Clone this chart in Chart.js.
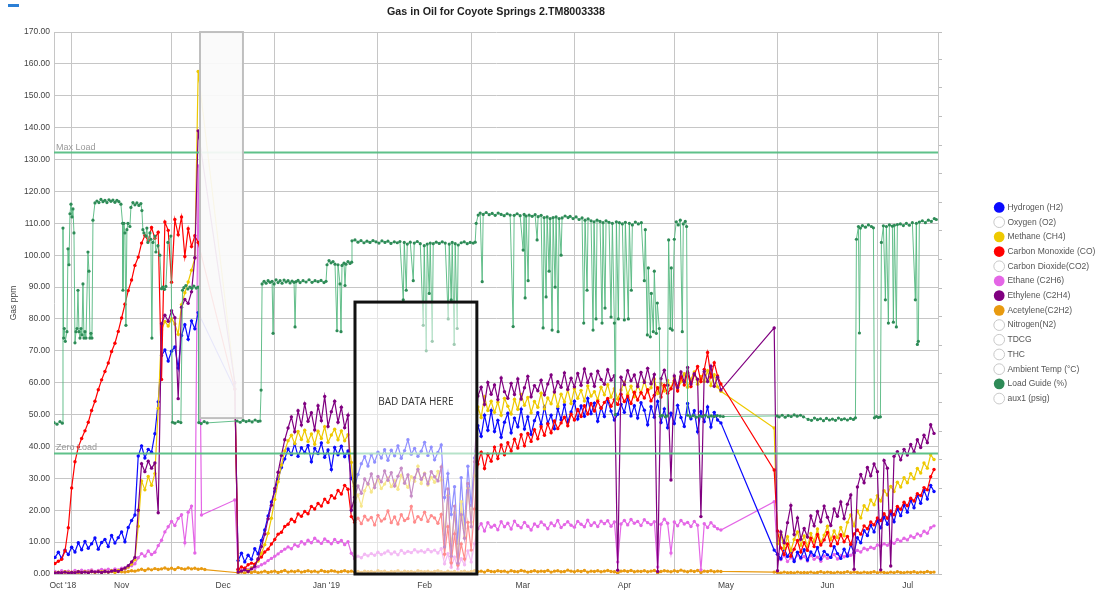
<!DOCTYPE html>
<html>
<head>
<meta charset="utf-8">
<title>Gas in Oil for Coyote Springs 2.TM8003338</title>
<script src="https://cdn.jsdelivr.net/npm/chart.js@4.4.1/dist/chart.umd.min.js"></script>
<style>
  html, body { margin: 0; padding: 0; background: #ffffff; }
  #wrap { position: relative; width: 1095px; height: 591px; }
  #tab { position: absolute; left: 8px; top: 4px; width: 11px; height: 2.5px; background: #2b7fd6; }
</style>
</head>
<body>
<div id="wrap">
  <canvas id="gasChart" width="1095" height="591"></canvas>
  <div id="tab"></div>
</div>
<script>
const FONT = "'Liberation Sans', Arial, sans-serif";
const GRID_COLOR = "#c6c6c6";
const TITLE = "Gas in Oil for Coyote Springs 2.TM8003338";

// x axis is in days counted from 1 Oct 2018 (day 0)
const X_MIN = 25.7;
const X_MAX = 291.2;
const monthStartDays = [31, 61, 92, 123, 151, 182, 212, 243, 273];
const monthLabelDays = [28.35, 46, 76.5, 107.5, 137, 166.5, 197, 227.5, 258, 282.1];
const monthLabels = ["Oct '18", "Nov", "Dec", "Jan '19", "Feb", "Mar", "Apr", "May", "Jun", "Jul"];

// gas readings, one value per day starting at FIRST_DAY (null = no reading)
const FIRST_DAY = 26;

const hydrogen = [
  5.2, 6.8, 4.9, 7.5, 6.1,
  8.4, 6.9, 9.8, 7.6, 10.2, 8.1, 9.5, 11.3, 7.8, 9.9,
  10.8, 8.6, 12.1, 9.7, 11.4, 13.2, 10.1, 14.6, 16.8, 18.5,
  37.0, 40.2, 36.4, 39.1, 38.2, 44.0, 54.0,
  68.5, 70.3, 66.8, 69.9, 71.2, 64.6, 74.8, 78.2, 73.6, 79.4, 76.9, 82.0,
  null, null, null, null, null, null, null, null, null, null, 58.0,
  4.2, 6.5, 3.8, 5.9, 4.6, 7.9, 6.3, 10.5, 13.8, 18.2,
  22.6, 25.9, 29.8, 33.4, 36.1, 39.2, 37.5, 40.8, 36.9, 39.6,
  38.1, 40.3, 35.2, 39.4, 37.8, 41.1, 36.6, 38.9, 32.8, 39.7,
  37.4, 40.1, 36.8, 38.6, 30.0,
  27.5, 31.2, 34.6, 36.8, 33.9, 37.5, 35.1, 38.2, 36.4, 39.0,
  35.7, 38.8, 37.1, 40.2, 36.3, 38.7, 42.1, 37.6, 39.4, 36.9,
  38.5, 41.3, 37.2, 39.8, 35.8, 38.1, 40.5, 24.0, 31.5, 18.7,
  27.4, 9.6, 30.2, 14.3, 33.8, 21.5, 36.4,
  46.5, 43.2, 49.8, 45.1, 51.3, 44.7, 48.2, 42.9,
  47.6, 50.4, 44.3, 48.9, 46.2, 51.7, 45.5, 49.3, 43.8, 48.1,
  50.6, 46.9, 52.4, 47.3, 49.8, 45.6, 51.9, 48.4, 53.1, 47.7,
  50.8, 54.2, 48.6, 52.7, 49.5, 55.1, 50.3, 53.6, 47.9, 52.2,
  49.4, 54.5, 51.1, 48.3, 50.1, 53.2, 50.7, 55.4, 49.6, 52.8,
  48.9, 53.7, 51.4, 46.8, 52.5, 49.2, 54.1, 47.5, 51.8, 45.9,
  50.4, 47.2, 52.9, 49.1, 46.3, 53.5, 48.7, 51.2, 44.6, 50.9,
  47.8, 52.4, 46.1, 50.7, 48.3, 47.4,
  null, null, null, null, null, null, null, null, null, null, null, null, null, null, null,
  7.5,
  6.2, 4.8, 8.1, 5.5, 7.3, 3.9, 6.8, 5.1,
  7.6, 4.4, 6.9, 5.8, 8.3, 4.7, 7.1, 6.0, 5.2, 8.6,
  6.4, 4.9, 7.8, 5.6, 9.2, 6.7, 11.4, 9.8, 13.6, 12.1,
  15.3, 13.2, 16.8, 14.5, 17.9, 15.6, 19.2, 16.4, 20.5, 18.3,
  21.6, 19.4, 23.1, 20.8, 24.7, 22.2, 26.3, 23.5, 27.8, 25.9
];

const methane = [
  0.4, 0.6, 0.3, 0.7, 0.5,
  0.6, 0.4, 0.8, 0.5, 0.7, 0.6, 0.9, 0.5, 0.8, 0.7,
  0.9, 0.6, 1.0, 0.8, 1.1, 1.3, 1.6, 2.2, 3.1, 4.5,
  15.0, 29.2, 26.4, 30.6, 27.8, 31.5, 52.0,
  76.5, 79.2, 77.8, 80.1, 78.4, 75.2, 84.5, 88.2, 91.6, 95.3, 99.1, 157.6,
  null, null, null, null, null, null, null, null, null, null, 60.0,
  1.2, 0.8, 1.5, 1.1, 1.9, 2.8, 4.1, 6.5, 9.2, 12.8,
  17.5, 23.4, 28.9, 34.2, 38.6, 41.8, 43.5, 40.9, 44.7, 42.2,
  45.1, 41.6, 43.9, 40.7, 44.8, 42.5, 46.2, 41.3, 43.6, 45.4,
  42.1, 44.9, 41.8, 43.7, 35.0,
  22.5, 24.8, 21.3, 26.1, 28.4, 25.7, 27.9, 29.6, 26.8, 28.2,
  30.1, 27.4, 29.3, 26.6, 31.0, 28.7, 27.2, 30.5, 29.1, 33.8,
  28.4, 31.6, 27.9, 30.3, 28.8, 32.2, 29.5, 12.4, 24.6, 8.8,
  19.2, 5.4, 22.7, 11.6, 26.9, 16.3, 30.8,
  52.4, 49.1, 55.6, 51.3, 54.2, 50.7, 53.9, 49.8,
  55.1, 52.6, 50.2, 54.8, 51.7, 56.3, 52.9, 55.4, 50.6, 54.1,
  52.3, 56.7, 51.8, 55.2, 53.4, 57.1, 52.6, 56.4, 54.0, 57.8,
  53.5, 58.2, 55.1, 57.6, 54.3, 59.0, 55.8, 57.2, 54.7, 58.6,
  56.2, 59.4, 55.5, 58.1, 54.9, 57.7, 60.2, 56.4, 58.9, 55.6,
  59.3, 56.8, 60.5, 57.1, 58.4, 61.2, 56.6, 59.8, 57.4, 60.7,
  58.2, 61.5, 57.9, 60.3, 62.8, 58.6, 61.1, 63.4, 59.5, 62.0,
  60.4, 63.8, 59.1, 62.5, 58.7, 57.3,
  null, null, null, null, null, null, null, null, null, null, null, null, null, null, null,
  45.8,
  9.5, 12.4, 8.1, 11.7, 7.3, 10.8, 13.2, 9.0,
  11.9, 8.6, 12.7, 10.3, 14.1, 9.7, 12.2, 15.0, 10.8, 13.5,
  11.4, 14.6, 12.0, 16.2, 18.5, 15.1, 19.8, 17.6, 21.4, 20.1,
  23.2, 21.7, 24.6, 22.9, 26.1, 24.8, 27.5, 25.9, 28.8, 27.3,
  30.2, 28.6, 31.5, 29.9, 33.1, 31.7, 34.8, 33.2, 37.4, 35.9
];

const carbonMonoxide = [
  3.3, 4.0, 4.6, 7.2, 14.5,
  27.0, 35.2, 39.8, 42.5, 44.9, 47.6, 51.3, 54.2, 57.8, 60.9,
  63.5, 66.2, 69.8, 72.4, 76.1, 80.3, 84.6, 88.9, 92.2, 96.8,
  99.4, 103.8, 106.2, 104.5, 108.7, 105.3, 107.2,
  61.0, 110.4, 107.8, 91.5, 111.2, 106.4, 112.0, 99.6, 108.3, 102.7, 106.1, 104.0,
  null, null, null, null, null, null, null, null, null, null, 58.0,
  1.5, 2.2, 1.8, 2.9, 3.4, 3.1, 4.6, 5.3, 6.9, 7.8,
  9.4, 10.8, 12.5, 13.1, 14.9, 15.6, 17.2, 16.4, 18.8, 18.1,
  19.6, 18.9, 21.2, 20.4, 22.1, 21.3, 23.5, 22.4, 24.6, 23.8,
  26.2, 25.1, 27.8, 26.6, 18.0,
  16.2, 17.5, 15.8, 18.1, 16.9, 17.7, 15.4, 18.4, 16.6, 17.3,
  19.8, 16.1, 17.9, 15.7, 18.6, 16.8, 17.4, 21.2, 16.3, 18.0,
  17.1, 19.4, 16.5, 18.3, 17.6, 15.9, 18.7, 6.2, 14.8, 3.5,
  12.6, 2.8, 9.4, 4.7, 16.2, 7.5, 20.4,
  34.5, 38.2, 33.1, 37.6, 35.4, 39.8, 36.2, 40.5,
  37.4, 41.2, 38.6, 42.3, 39.5, 43.7, 40.2, 44.1, 41.6, 45.3,
  42.4, 46.2, 43.5, 47.1, 44.3, 48.0, 45.6, 47.4, 49.2, 46.5,
  50.1, 48.3, 51.6, 49.4, 52.8, 50.2, 53.5, 51.1, 54.2, 52.0,
  53.8, 55.1, 52.6, 54.7, 53.2, 56.4, 54.1, 55.8, 53.5, 57.0,
  54.6, 56.9, 55.2, 57.8, 54.3, 56.1, 58.4, 55.5, 59.2, 56.7,
  58.1, 60.6, 57.4, 61.9, 59.3, 63.2, 58.8, 62.5, 65.1, 60.4,
  64.2, 69.5, 61.8, 66.3, 62.1, 59.6,
  null, null, null, null, null, null, null, null, null, null, null, null, null, null, null,
  32.6,
  13.5, 8.2, 6.1, 9.4, 5.6, 7.8, 10.5, 6.9,
  9.8, 7.4, 11.2, 8.6, 12.4, 9.1, 10.7, 13.0, 8.9, 11.6,
  9.5, 12.3, 10.1, 11.8, 9.3, 12.6, 13.8, 12.5, 15.1, 14.2,
  16.3, 15.4, 17.6, 16.8, 18.9, 17.5, 19.8, 18.6, 21.2, 20.3,
  22.5, 21.4, 23.8, 22.9, 25.2, 24.6, 27.1, 26.4, 30.5, 32.8
];

const ethane = [
  0.8, 0.5, 1.0, 0.7, 0.9,
  0.6, 1.1, 0.8, 1.2, 0.9, 1.0, 1.3, 0.8, 1.1, 1.4,
  1.2, 1.5, 1.1, 1.6, 1.3, 1.8, 1.5, 2.1, 2.6, 3.2,
  5.1, 6.4, 5.6, 7.2, 6.1, 6.8, 8.9,
  10.6, 13.2, 14.8, 16.5, 15.2, 17.4, 18.6, 9.8, 19.4, 21.3, 6.6, 128.0,
  18.5, null, null, null, null, null, null, null, null, null, 23.2,
  1.5, 1.2, 1.8, 1.4, 2.0, 1.7, 2.3, 2.9, 3.4, 4.2,
  4.9, 5.6, 6.3, 7.1, 7.8, 8.5, 7.9, 9.2, 8.7, 10.1,
  9.4, 10.6, 9.8, 11.2, 10.3, 9.6, 11.0, 10.2, 9.5, 10.8,
  9.9, 10.5, 9.2, 10.1, 6.5,
  4.8, 5.6, 5.1, 6.2, 5.7, 6.4, 5.9, 6.8, 6.1, 6.6,
  7.2, 6.3, 6.9, 6.0, 7.4, 6.5, 7.1, 6.7, 7.6, 6.9,
  7.3, 6.8, 7.7, 7.0, 7.5, 6.6, 7.9, 3.2, 6.4, 2.1,
  5.3, 1.6, 4.8, 2.9, 7.2, 3.8, 9.5,
  14.2, 15.8, 13.5, 16.1, 14.7, 15.3, 13.9, 16.4,
  14.8, 15.9, 14.1, 16.6, 15.2, 14.5, 16.2, 15.0, 13.8, 15.7,
  14.9, 16.3, 15.4, 14.2, 16.0, 15.1, 16.8, 14.6, 15.5, 16.4,
  15.3, 14.7, 16.5, 15.6, 14.8, 16.9, 15.2, 16.1, 14.9, 16.6,
  15.8, 16.7, 15.0, 16.3, 3.8, 15.7, 16.8, 15.4, 17.1, 15.9,
  16.5, 15.2, 17.0, 16.1, 15.5, 16.4, 2.2, 15.6, 17.2, 15.9,
  6.6, 16.3, 15.1, 16.8, 15.7, 16.2, 14.9, 16.5, 15.3, 1.3,
  15.8, 14.6, 16.1, 15.0, 14.2, 13.8,
  null, null, null, null, null, null, null, null, null, null, null, null, null, null, null,
  22.7,
  6.2, 4.5, 5.8, 3.9, 5.1, 4.3, 6.0, 4.8,
  5.5, 4.1, 5.9, 4.6, 5.3, 4.0, 5.7, 4.9, 5.2, 6.1,
  4.7, 5.8, 5.4, 6.3, 5.9, 6.8, 7.4, 6.9, 8.1, 7.6,
  8.4, 8.0, 9.1, 8.7, 9.5, 9.0, 10.2, 9.6, 10.8, 10.3,
  11.2, 10.7, 11.9, 11.4, 12.6, 12.0, 13.4, 12.8, 14.5, 15.1
];

const ethylene = [
  0.3, 0.5, 0.4, 0.6, 0.3,
  0.5, 0.4, 0.7, 0.5, 0.6, 0.4, 0.8, 0.6, 0.7, 0.5,
  0.8, 0.6, 0.9, 1.1, 0.8, 1.4, 1.9, 2.6, 3.8, 5.2,
  20.0, 34.6, 32.1, 35.4, 33.2, 34.8, 19.2,
  78.5, 81.2, 79.3, 82.6, 80.4, 55.0, 83.7, 86.1, 84.9, 88.5, 99.2, 139.0,
  null, null, null, null, null, null, null, null, null, null, 60.0,
  0.6, 0.9, 1.3, 0.8, 1.6, 2.4, 4.8, 8.6, 12.5, 17.3,
  21.6, 26.8, 31.9, 37.2, 42.1, 45.8, 49.3, 44.6, 51.2, 46.7,
  53.4, 47.9, 50.6, 45.2, 52.8, 48.1, 55.7, 46.3, 50.9, 54.2,
  47.6, 52.3, 45.9, 49.8, 20.0,
  24.1, 27.6, 25.3, 29.8, 28.2, 31.4, 27.1, 30.6, 28.9, 32.3,
  29.4, 31.8, 27.6, 30.7, 33.2, 28.5, 31.1, 24.5, 30.2, 32.8,
  29.7, 31.4, 28.3, 32.1, 30.5, 29.2, 33.6, 8.5, 26.7, 5.6,
  21.3, 3.4, 18.6, 11.2, 28.4, 14.8, 35.2,
  55.8, 58.6, 53.2, 60.1, 56.4, 59.3, 54.7, 61.5,
  57.2, 55.1, 59.8, 56.3, 61.2, 54.9, 58.4, 62.0, 55.6, 59.1,
  57.5, 60.8, 56.2, 59.6, 62.4, 57.1, 60.3, 58.6, 63.1, 57.9,
  61.4, 58.7, 62.9, 59.2, 64.3, 60.1, 62.7, 58.9, 63.6, 61.0,
  59.5, 64.1, 60.8, 62.2, 1.2, 61.7, 59.4, 63.8, 60.6, 62.4,
  58.8, 63.2, 60.1, 64.5, 59.7, 62.6, 0.8, 61.3, 63.9, 59.2,
  29.5, 62.1, 58.5, 63.4, 60.2, 64.8, 59.6, 62.8, 61.1, 18.0,
  63.5, 60.4, 65.2, 58.9, 61.7, 57.7,
  null, null, null, null, null, null, null, null, null, null, null, null, null, null, null,
  77.2,
  1.0, 13.2, 9.8, 16.1, 21.5, 12.4, 17.6, 10.9,
  14.3, 11.6, 18.2, 15.1, 19.6, 16.4, 21.3, 17.8, 15.2, 20.4,
  18.1, 22.6, 17.4, 21.9, 24.8, 1.5, 27.3, 31.2, 28.6, 33.4,
  30.8, 34.5, 32.1, 1.3, 35.6, 33.2, 2.5, 36.9, 38.4, 35.8,
  39.1, 37.3, 40.6, 38.2, 42.1, 39.7, 43.5, 41.2, 46.8, 44.1
];

const acetylene = [
  0.6, 0.4, 0.7, 0.5, 0.8,
  0.5, 0.7, 0.4, 0.6, 0.8, 0.5, 0.7, 0.6, 0.9, 0.5,
  0.7, 0.6, 0.8, 0.5, 0.9, 0.7, 0.6, 0.8, 1.0, 0.9,
  1.2, 1.5, 1.1, 1.6, 1.3, 1.7, 1.4,
  1.6, 1.9, 1.5, 1.8, 1.4, 2.0, 1.7, 1.5, 1.9, 1.6, 1.8, 1.5,
  1.7, 1.4, null, null, null, null, null, null, null, null, null,
  0.4, 0.6, 0.3, 0.7, 0.5, 0.8, 0.4, 0.6, 0.9, 0.5,
  0.7, 0.9, 0.5, 0.8, 1.1, 0.6, 0.9, 0.7, 1.0, 0.6,
  0.8, 1.0, 0.7, 0.9, 0.6, 1.1, 0.8, 0.7, 1.0, 0.9,
  0.6, 0.8, 1.0, 0.7, 0.9,
  0.6, 0.8, 0.5, 0.9, 0.7, 0.8, 0.6, 1.0, 0.7, 0.9,
  0.5, 0.8, 0.7, 1.0, 0.6, 0.9, 0.7, 0.8, 0.6, 1.0,
  0.8, 0.7, 0.9, 0.6, 0.8, 1.0, 0.7, 0.5, 0.9, 0.6,
  0.8, 0.4, 0.7, 0.9, 0.6, 0.8, 1.0,
  0.7, 0.9, 0.6, 1.1, 0.8, 0.7, 1.0, 0.8,
  0.9, 0.6, 1.0, 0.8, 0.7, 1.1, 0.9, 0.6, 0.8, 1.0,
  0.7, 0.9, 0.8, 1.1, 0.6, 0.9, 1.0, 0.7, 0.8, 1.2,
  0.9, 0.7, 1.0, 0.8, 1.1, 0.6, 0.9, 0.8, 1.0, 0.7,
  0.9, 1.1, 0.8, 0.7, 0.3, 0.9, 1.0, 0.8, 1.1, 0.7,
  0.9, 0.8, 1.0, 0.7, 0.9, 1.1, 0.4, 0.8, 1.0, 0.9,
  0.7, 1.0, 0.8, 1.2, 0.9, 0.7, 1.0, 0.8, 1.1, 0.5,
  0.9, 0.8, 1.0, 0.7, 0.9, 0.8,
  null, null, null, null, null, null, null, null, null, null, null, null, null, null, null,
  0.6,
  0.5, 0.3, 0.6, 0.4, 0.5, 0.3, 0.6, 0.4,
  0.5, 0.4, 0.6, 0.3, 0.5, 0.7, 0.4, 0.6, 0.5, 0.3,
  0.6, 0.4, 0.5, 0.7, 0.4, 0.6, 0.5, 0.3, 0.6, 0.4,
  0.5, 0.7, 0.4, 0.6, 0.5, 0.3, 0.6, 0.4, 0.7, 0.5,
  0.4, 0.6, 0.5, 0.7, 0.4, 0.6, 0.5, 0.8, 0.5, 0.6
];

// load guide is sampled irregularly: [day, value]
const loadGuide = [
  [25.7,47.5],[26.6,47.0],[27.5,47.8],[28.2,47.3],[28.4,108.5],[28.6,74],[28.8,77],[29.1,73],[29.6,76],[29.9,102],
  [30.2,97],[30.5,113],[30.8,116],[31.1,112],[31.4,114.5],[31.7,107],[32.0,72.5],[32.3,76],[32.6,77],[32.9,89],
  [33.2,76],[33.5,74],[33.8,77],[34.1,75],[34.4,91],[34.7,74],[35.0,76],[35.3,74],[35.9,101],[36.2,95],
  [36.5,74],[36.8,75.5],[37.1,74],[37.4,111],[38.0,116.4],[38.6,117],[39.2,116.5],[39.8,117.5],[40.4,116.8],[41.0,117.2],
  [41.6,116.5],[42.2,117.4],[42.8,116.9],[43.4,117.3],[44.0,116.6],[44.6,117.2],[45.2,116.8],[45.8,116],[46.3,110],[46.4,89],
  [46.7,110],[47.0,107],[47.3,78],[47.6,108],[47.9,110],[48.5,109],[48.8,115],[49.4,116.5],[50.0,115.8],[50.6,116.4],
  [51.2,115.6],[51.8,116.2],[52.1,114],[52.4,108],[52.7,107],[53.3,106],[53.6,108.5],[53.9,104],[54.5,107],[54.8,105],
  [55.1,74],[55.4,104],[56.0,106],[56.3,101],[56.9,103],[57.5,100],[58.0,89.5],[58.4,90],[58.9,89.3],[59.3,90.2],
  [59.9,104],[60.8,106],[61.3,47.6],[62.0,47.3],[63.0,47.8],[63.8,47.5],[64.3,89],[64.7,89.8],[65.3,90.5],[65.9,89.4],
  [66.5,90],[67.1,89.6],[67.7,90.3],[68.4,89.7],[69.0,90],[69.2,47.5],[69.9,47.2],[70.8,47.8],[71.7,47.4],
  [80.7,48],[81.6,47.6],[82.5,48.2],[83.4,47.8],[84.3,48.1],[85.2,47.7],[86.1,48.3],[87.0,47.9],[87.6,48],[87.9,57.7],
  [88.2,91],[88.8,91.8],[89.4,91.2],[90.0,92],[90.6,91.5],[91.2,91.8],[91.5,75.5],[91.8,91],[92.4,92.3],[93.0,91.4],
  [93.6,92],[94.2,91.2],[94.8,92.2],[95.4,91.6],[96.0,92],[96.6,91.3],[97.2,91.9],[97.8,91.5],[98.1,77.5],[98.4,91.7],
  [99.0,92.1],[99.6,91.4],[100.5,92],[101.4,91.6],[102.3,92.3],[103.2,91.5],[104.1,92],[105.0,91.7],[105.9,92.1],[106.8,91.4],
  [107.4,91.8],[107.7,97],[108.3,98.3],[108.9,97.6],[109.5,98],[110.1,97.2],[110.7,76.3],[111.0,97],[111.6,91],[111.9,76],
  [112.2,96.8],[112.8,97.5],[113.1,90.5],[113.4,97.2],[114.0,98],[114.6,97.4],[115.1,97.8],[115.2,104.5],[116.1,104.8],[117.0,104.1],
  [117.9,104.6],[118.8,103.9],[119.7,104.4],[120.6,104],[121.5,104.6],[122.4,104.2],[123.3,103.8],[124.2,104.5],[125.1,104],[126.0,104.4],
  [126.9,103.7],[127.9,104.2],[128.8,103.9],[129.6,104.3],[130.6,86],[130.9,104],[131.5,89],[131.8,103.5],[132.7,104.1],[133.6,92],
  [133.9,103.8],[134.8,104.3],[135.7,103.6],[136.6,78],[136.9,103],[137.5,70],[137.8,103.5],[138.4,88],[138.7,103.8],[139.3,73],
  [139.6,103.6],[140.5,104.1],[141.4,103.7],[142.3,104.2],[143.2,103.8],[144.1,80],[144.4,103.5],[145.0,86],[145.3,104],[145.9,72],
  [146.2,103.6],[146.8,77],[147.1,103.2],[148.0,103.9],[148.9,104.2],[149.8,103.6],[150.7,104],[151.6,103.8],[152.2,104.1],[152.5,110],
  [153.1,112.6],[153.7,113.2],[154.3,91.7],[154.6,112.8],[155.5,113.4],[156.4,112.7],[157.3,113.1],[158.2,112.5],[159.1,113.2],[160.0,112.8],
  [160.9,112.4],[161.8,113],[162.7,112.6],[163.6,77.6],[163.9,112.5],[164.8,113],[165.7,112.4],[166.6,101.6],[166.9,112.8],[167.2,86.6],
  [167.5,112.3],[168.1,92],[168.4,112.6],[169.3,112.2],[170.2,112.7],[170.8,104.8],[171.1,112.1],[172.0,112.5],[172.6,77.2],[172.9,111.8],
  [173.5,86.9],[173.8,112],[174.4,95],[174.7,111.5],[175.3,76.5],[175.6,111.8],[176.2,90],[176.5,112],[177.1,76],[177.4,111.5],
  [178.0,100],[178.3,111.7],[179.2,112.3],[180.1,111.8],[180.7,112.2],[181.6,111.5],[182.5,112],[183.4,111.2],[184.3,111.7],[184.8,78.7],
  [185.2,111],[185.8,89],[186.1,111.4],[187.0,110.8],[187.6,76.5],[187.9,110.5],[188.5,80],[188.8,111],[189.7,110.6],[190.3,78.7],
  [190.6,110.2],[191.2,83.4],[191.5,110.8],[192.4,110.3],[193.0,80.6],[193.4,110],[194.0,78.7],[194.3,50],[194.6,110.5],[195.2,80],
  [195.5,110.2],[196.4,109.8],[197.0,79.7],[197.3,110.3],[198.2,80],[198.5,110],[199.1,89],[199.4,109.5],[200.3,110.4],[201.2,109.8],
  [202.1,110.2],[203.0,92],[203.3,108],[203.9,75],[204.2,96],[204.8,74.4],[205.1,88],[205.7,76],[206.0,95],[206.6,75.5],
  [206.9,85],[207.5,77],[207.8,49.5],[208.4,49.8],[209.3,49.3],[209.9,49.6],[210.3,104.8],[210.8,77],[211.1,96],[211.4,76.5],
  [212.0,105],[212.6,110.5],[213.2,109.5],[213.8,111],[214.4,76],[214.7,109.8],[215.3,110.6],[215.7,109],[216.0,49.8],[216.8,49.3],
  [217.7,49.7],[218.6,49.2],[219.5,49.6],[220.4,49.4],[221.3,49.8],[222.2,49.3],[223.1,49.6],[224.0,49.4],[224.9,49.7],[225.8,49.5],
  [226.7,49.4],
  [242.9,49.6],[243.5,49.3],[244.4,49.8],[245.3,49.2],[246.2,49.7],[247.1,49.4],[248.0,49.9],[248.9,49.5],[249.9,49.8],[250.8,49.3],
  [252.2,48.5],[253.2,48.2],[254.1,48.9],[255.0,48.4],[255.9,48.7],[256.8,48.1],[257.7,48.8],[258.6,48.3],[259.5,48.6],[260.4,48.2],
  [261.3,48.9],[262.2,48.4],[263.1,48.7],[264.0,48.3],[264.9,48.8],[265.8,48.5],[266.4,49],[266.7,105],[267.3,109],[267.6,75.6],
  [267.9,108.5],[268.5,109.3],[269.4,108.8],[270.3,109.5],[271.2,109],[271.8,108.6],[272.1,49],[272.7,49.4],[273.3,49.1],[273.9,49.3],
  [274.2,104],[274.8,109.2],[275.4,86],[275.7,109],[276.3,78.7],[276.6,109.5],[277.5,109.1],[277.8,79],[278.1,109.4],[278.7,77.5],
  [279.0,109.6],[279.9,109.8],[280.8,109.3],[281.7,110],[282.6,109.4],[283.5,110.2],[284.4,86],[284.7,110],[285.0,72],[285.3,73],
  [285.6,110.4],[286.5,110.8],[287.4,110.2],[288.3,111],[289.2,110.6],[290.1,111.5],[290.7,111.2]
];

// reference load levels (ppm scale) and their captions
const loadLineLabels = ["Max Load", "Zero Load"];
const loadLinePpm = [132.2, 37.8];

// highlighted regions, in axis units
const maskedBoxDays = [69.55, 82.45];
const maskedBoxPpm = [48.9, 170];
const badDataBoxDays = [116.1, 152.7];
const badDataBoxPpm = [0, 85.3];
const badDataText = "BAD DATA HERE";
const badDataTextPpm = 54;

const LOAD_LINE_COLOR = "rgba(86, 190, 132, 0.95)";

//builds a line dataset for one gas from its daily readings
function gasDataset(label, values, color, order) {
    return {
        label: label,
        order: order,
        xAxisID: "x",
        yAxisID: "y",
        data: values.map((v, i) => ({ x: FIRST_DAY + i, y: v })),
        borderColor: color,
        backgroundColor: color,
        borderWidth: 1.2,
        pointRadius: 1.7,
        pointBorderWidth: 0,
        pointBackgroundColor: color,
        spanGaps: true
    };
}

//legend-only entry for a channel that has no data in this view
function emptyDataset(label) {
    return {
        label: label,
        order: 9,
        xAxisID: "x",
        yAxisID: "y",
        data: [],
        borderColor: "#c8c8c8",
        backgroundColor: "#ffffff",
        pointBackgroundColor: "#ffffff",
        pointBorderColor: "#c8c8c8",
        pointBorderWidth: 1
    };
}

const loadGuideDataset = {
    label: "Load Guide (%)",
    order: 0,
    xAxisID: "x",
    yAxisID: "y",
    data: loadGuide.map(p => ({ x: p[0], y: p[1] })),
    borderColor: "rgba(84, 184, 128, 0.9)",
    backgroundColor: "#33a065",
    borderWidth: 1,
    pointRadius: 1.6,
    pointBorderWidth: 0,
    pointBackgroundColor: "#2e8b57"
};

// max/zero load lines and the two marked boxes, drawn over the data
const overlayPlugin = {
    id: "overlayPlugin",
    afterDatasetsDraw(chart) {
        const { ctx, chartArea: { left, right }, scales: { x, y } } = chart;
        ctx.save();

        loadLinePpm.forEach((ppm, i) => {
            const py = y.getPixelForValue(ppm);
            ctx.strokeStyle = LOAD_LINE_COLOR;
            ctx.lineWidth = 2;
            ctx.beginPath();
            ctx.moveTo(left, py);
            ctx.lineTo(right, py);
            ctx.stroke();
            ctx.fillStyle = "#9a9a9a";
            ctx.font = `9px ${FONT}`;
            ctx.textAlign = "left";
            ctx.textBaseline = "bottom";
            ctx.fillText(loadLineLabels[i], left + 2, py - 1);
        });

        // faded box over the suspect spike
        let x0 = x.getPixelForValue(maskedBoxDays[0]);
        let x1 = x.getPixelForValue(maskedBoxDays[1]);
        let y0 = y.getPixelForValue(maskedBoxPpm[1]);
        let y1 = y.getPixelForValue(maskedBoxPpm[0]);
        ctx.fillStyle = "rgba(250, 250, 250, 0.93)";
        ctx.fillRect(x0, y0, x1 - x0, y1 - y0);
        ctx.strokeStyle = "#bfbfbf";
        ctx.lineWidth = 2;
        ctx.strokeRect(x0, y0, x1 - x0, y1 - y0);

        // bad data box
        x0 = x.getPixelForValue(badDataBoxDays[0]);
        x1 = x.getPixelForValue(badDataBoxDays[1]);
        y0 = y.getPixelForValue(badDataBoxPpm[1]);
        y1 = y.getPixelForValue(badDataBoxPpm[0]);
        ctx.fillStyle = "rgba(255, 255, 255, 0.55)";
        ctx.fillRect(x0, y0, x1 - x0, y1 - y0);
        ctx.strokeStyle = "#111111";
        ctx.lineWidth = 3;
        ctx.strokeRect(x0, y0, x1 - x0, y1 - y0);
        ctx.fillStyle = "#333333";
        ctx.font = "10px 'Open Sans', sans-serif";
        ctx.textAlign = "center";
        ctx.textBaseline = "middle";
        ctx.fillText(badDataText, (x0 + x1) / 2, y.getPixelForValue(badDataTextPpm));

        ctx.restore();
    }
};

Chart.defaults.font.family = FONT;

const gasChart = new Chart(document.getElementById("gasChart"), {
    type: "line",
    data: {
        datasets: [
            gasDataset("Hydrogen (H2)", hydrogen, "#0a0aff", 4),
            emptyDataset("Oxygen (O2)"),
            gasDataset("Methane (CH4)", methane, "#eec900", 3),
            gasDataset("Carbon Monoxide (CO)", carbonMonoxide, "#ff0000", 2),
            emptyDataset("Carbon Dioxide(CO2)"),
            gasDataset("Ethane (C2H6)", ethane, "#e466e6", 5),
            gasDataset("Ethylene (C2H4)", ethylene, "#800080", 1),
            gasDataset("Acetylene(C2H2)", acetylene, "#e89a10", 6),
            emptyDataset("Nitrogen(N2)"),
            emptyDataset("TDCG"),
            emptyDataset("THC"),
            emptyDataset("Ambient Temp (°C)"),
            loadGuideDataset,
            emptyDataset("aux1 (psig)")
        ]
    },
    options: {
        responsive: false,
        animation: false,
        events: [],
        layout: { padding: 0 },
        scales: {
            x: {
                type: "linear",
                min: X_MIN,
                max: X_MAX,
                afterFit: (scale) => { scale.height = 17; },
                afterBuildTicks: (scale) => {
                    scale.ticks = monthStartDays.concat(monthLabelDays)
                        .sort((a, b) => a - b)
                        .map(v => ({ value: v }));
                },
                ticks: {
                    autoSkip: false,
                    maxRotation: 0,
                    padding: 7,
                    color: "#444444",
                    font: { size: 8.5 },
                    callback: (value) => {
                        const i = monthLabelDays.indexOf(value);
                        return i >= 0 ? monthLabels[i] : "";
                    }
                },
                grid: {
                    drawTicks: false,
                    color: (c) => (c.tick && monthStartDays.includes(c.tick.value)) ? GRID_COLOR : "rgba(0,0,0,0)"
                },
                border: { color: GRID_COLOR }
            },
            y: {
                min: 0,
                max: 170,
                afterFit: (scale) => { scale.width = 54; },
                ticks: {
                    stepSize: 10,
                    padding: 4,
                    color: "#444444",
                    font: { size: 8.5 },
                    callback: (value) => value.toFixed(2)
                },
                grid: { color: GRID_COLOR, drawTicks: false },
                border: { color: GRID_COLOR },
                title: {
                    display: true,
                    text: "Gas ppm",
                    color: "#444444",
                    font: { size: 8.5 },
                    padding: { top: 9, bottom: 0 }
                }
            },
            y2: {
                position: "right",
                min: 0,
                max: 18.95,
                afterFit: (scale) => { scale.width = 51; },
                ticks: { display: false, stepSize: 1 },
                grid: { drawOnChartArea: false, drawTicks: true, tickLength: 4, color: "#bdbdbd" },
                border: { color: GRID_COLOR }
            }
        },
        plugins: {
            title: {
                display: true,
                text: TITLE,
                fullSize: false,
                color: "#222222",
                font: { size: 10.7, weight: "bold" },
                padding: { top: 5.6, bottom: 13.6 }
            },
            legend: {
                position: "right",
                fullSize: false,
                maxWidth: 106,
                labels: {
                    usePointStyle: true,
                    pointStyle: "circle",
                    boxWidth: 8,
                    boxHeight: 7.6,
                    padding: 6.2,
                    color: "#555555",
                    font: { size: 8.5 },
                    sort: (a, b) => a.datasetIndex - b.datasetIndex
                }
            },
            tooltip: { enabled: false }
        }
    },
    plugins: [overlayPlugin]
});

// sanity check on the daily series lengths
const dailySeries = { hydrogen, methane, carbonMonoxide, ethane, ethylene, acetylene };
const expected = hydrogen.length;
Object.keys(dailySeries).forEach(key => {
    if (dailySeries[key].length !== expected)
        setTimeout(() => { throw new Error(`${key} has ${dailySeries[key].length} values, expected ${expected}`); });
});
</script>
</body>
</html>
